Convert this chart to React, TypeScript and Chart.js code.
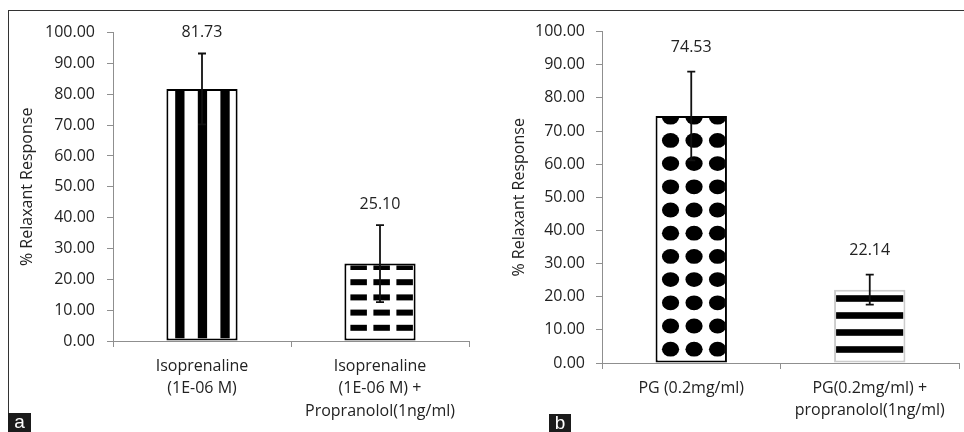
import React, { useEffect, useRef } from "react";
import { Chart, registerables } from "chart.js";

Chart.register(...registerables);

// ---------- data ----------
const leftCategories = [
  ["Isoprenaline", "(1E-06 M)"],
  ["Isoprenaline", "(1E-06 M) +", "Propranolol(1ng/ml)"],
];
const leftValues = [81.73, 25.1];
const leftErrors = [11.5, 12.5];

const rightCategories = [
  ["PG (0.2mg/ml)"],
  ["PG(0.2mg/ml) +", "propranolol(1ng/ml)"],
];
const rightValues = [74.53, 22.14];
const rightErrors = [13.4, 4.5];

const yTickValues = [0, 10, 20, 30, 40, 50, 60, 70, 80, 90, 100];
const yAxisTitle = "% Relaxant Response";
const panelLetters = ["a", "b"];

const FONT = "'Open Sans', 'Liberation Sans', sans-serif";
const TEXT = "#222222";
const AXIS = "#8f8f8f";

type PatternKind = "vstripes" | "dashes" | "dots" | "hstripes";

function drawPattern(
  ctx: CanvasRenderingContext2D,
  kind: PatternKind,
  left: number,
  right: number,
  top: number,
  base: number
) {
  ctx.fillStyle = "#000";
  if (kind === "vstripes") {
    for (let sx = left + 6.8; sx < right; sx += 22.6) {
      ctx.fillRect(sx, top, 9.3, base - top);
    }
  } else if (kind === "dashes") {
    for (let k = 0; ; k++) {
      const b = base - 7.7 - k * 15.2;
      if (b < top) break;
      for (let cx = left + 4; cx < right; cx += 23) {
        ctx.fillRect(cx, b - 6, 16.5, 6);
      }
    }
  } else if (kind === "dots") {
    for (let k = 0; ; k++) {
      const cy = base - 11.3 - k * 23.2;
      if (cy + 8 < top) break;
      for (let cx = left + 13; cx - 9 < right; cx += 23.5) {
        ctx.beginPath();
        ctx.ellipse(cx, cy, 8.6, 7.4, 0, 0, Math.PI * 2);
        ctx.fill();
      }
    }
  } else if (kind === "hstripes") {
    for (let k = 0; ; k++) {
      const cy = base - 11 - k * 17;
      if (cy + 3.3 < top) break;
      ctx.fillRect(left, cy - 3.3, right - left, 6.6);
    }
  }
}

const decorPlugin = {
  id: "decor",
  afterDatasetsDraw(chart: any, _args: any, opts: any) {
    const ctx: CanvasRenderingContext2D = chart.ctx;
    const meta = chart.getDatasetMeta(0);
    const yScale = chart.scales.y;
    const values: number[] = chart.data.datasets[0].data;
    meta.data.forEach((bar: any, i: number) => {
      const { x, y, base, width } = bar.getProps(["x", "y", "base", "width"], true);
      const left = x - width / 2;
      const right = x + width / 2;
      const bw = opts.borderWidth;
      // pattern inside bar
      ctx.save();
      ctx.beginPath();
      ctx.rect(left + bw, y + bw, width - 2 * bw, base - y - 2 * bw);
      ctx.clip();
      drawPattern(ctx, opts.patterns[i], left + bw, right - bw, y + bw, base - bw);
      ctx.restore();

      // error bar
      const v = values[i];
      const e = opts.errors[i];
      const yTop = yScale.getPixelForValue(v + e);
      const yBot = yScale.getPixelForValue(v - e);
      ctx.save();
      ctx.strokeStyle = "#111";
      ctx.lineWidth = 1.8;
      ctx.beginPath();
      ctx.moveTo(x, yTop);
      ctx.lineTo(x, yBot);
      ctx.moveTo(x - 4, yTop);
      ctx.lineTo(x + 4, yTop);
      ctx.moveTo(x - 4, yBot);
      ctx.lineTo(x + 4, yBot);
      ctx.stroke();
      ctx.restore();

      // value label
      ctx.save();
      ctx.fillStyle = TEXT;
      ctx.font = `16px ${FONT}`;
      ctx.textAlign = "center";
      ctx.textBaseline = "middle";
      ctx.fillText(v.toFixed(2), x, yTop - opts.labelOffset);
      ctx.restore();
    });
  },
};

interface PanelProps {
  categories: string[][];
  values: number[];
  errors: number[];
  patterns: PatternKind[];
  borderColors: string[];
  width: number;
  height: number;
  padTop: number;
  padRight: number;
  yWidth: number;
  xHeight: number;
  titlePad: number;
  tickPad: number;
  labelOffset: number;
}

function Panel(p: PanelProps) {
  const ref = useRef<HTMLCanvasElement | null>(null);
  useEffect(() => {
    if (!ref.current) return;
    const chart = new Chart(ref.current, {
      type: "bar",
      data: {
        labels: p.categories as any,
        datasets: [
          {
            data: p.values,
            backgroundColor: "#ffffff",
            borderColor: p.borderColors,
            borderWidth: 2,
            borderSkipped: false,
            categoryPercentage: 1,
            barPercentage: 0.4,
          },
        ],
      },
      options: {
        responsive: false,
        animation: false,
        devicePixelRatio: 1,
        layout: { padding: { top: p.padTop, right: p.padRight, left: 0, bottom: 0 } },
        plugins: {
          legend: { display: false },
          tooltip: { enabled: false },
          decor: {
            errors: p.errors,
            patterns: p.patterns,
            borderWidth: 2,
            labelOffset: p.labelOffset,
          },
        } as any,
        scales: {
          x: {
            type: "category",
            grid: {
              display: true,
              drawOnChartArea: false,
              drawTicks: true,
              tickLength: 6,
              offset: true,
              color: AXIS,
            },
            border: { display: true, color: AXIS, width: 1 },
            ticks: {
              color: TEXT,
              font: { family: FONT, size: 16, lineHeight: 1.4 },
              padding: 8,
              maxRotation: 0,
              minRotation: 0,
              autoSkip: false,
            },
            afterFit(scale: any) {
              scale.height = p.xHeight;
            },
          },
          y: {
            type: "linear",
            min: 0,
            max: 100,
            grid: {
              display: true,
              drawOnChartArea: false,
              drawTicks: true,
              tickLength: 6,
              color: AXIS,
            },
            border: { display: true, color: AXIS, width: 1 },
            afterBuildTicks(scale: any) {
              scale.ticks = yTickValues.map((v) => ({ value: v }));
            },
            ticks: {
              color: TEXT,
              font: { family: FONT, size: 16 },
              padding: p.tickPad,
              callback: (v: any) => Number(v).toFixed(2),
            },
            title: {
              display: true,
              text: yAxisTitle,
              color: TEXT,
              font: { family: FONT, size: 16, lineHeight: 1.2 },
              padding: { top: p.titlePad, bottom: 0 },
            },
            afterFit(scale: any) {
              scale.width = p.yWidth;
            },
          },
        },
      },
      plugins: [decorPlugin as any],
    });
    return () => chart.destroy();
  }, []);
  return (
    <canvas
      ref={ref}
      width={p.width}
      height={p.height}
      style={{ width: p.width, height: p.height, display: "block" }}
    />
  );
}

const letterStyle: React.CSSProperties = {
  position: "absolute",
  background: "#1b1b1b",
  color: "#ffffff",
  fontFamily: "'Liberation Sans', Arial, sans-serif",
  fontSize: 19,
  textAlign: "center",
};

export default function App() {
  return (
    <div
      style={{
        position: "fixed",
        left: 0,
        top: 0,
        width: 964,
        height: 432,
        overflow: "hidden",
        background: "#ffffff",
      }}
    >
      <div style={{ position: "absolute", left: 8, top: 10, width: 956, height: 1, background: "#333" }} />
      <div style={{ position: "absolute", left: 8, top: 10, width: 1, height: 403, background: "#333" }} />
      <div style={{ position: "absolute", left: 9, top: 11 }}>
        <Panel
          categories={leftCategories}
          values={leftValues}
          errors={leftErrors}
          patterns={["vstripes", "dashes"]}
          borderColors={["#000000", "#000000"]}
          width={471}
          height={421}
          padTop={17}
          padRight={11}
          yWidth={104}
          xHeight={91}
          titlePad={8.4}
          tickPad={12}
          labelOffset={21}
        />
      </div>
      <div style={{ position: "absolute", left: 484, top: 11 }}>
        <Panel
          categories={rightCategories}
          values={rightValues}
          errors={rightErrors}
          patterns={["dots", "hstripes"]}
          borderColors={["#000000", "#cccccc"]}
          width={480}
          height={421}
          padTop={18}
          padRight={5}
          yWidth={118}
          xHeight={69}
          titlePad={25.4}
          tickPad={11}
          labelOffset={24.5}
        />
      </div>
      <div style={{ ...letterStyle, left: 8, top: 413, width: 23, height: 19, lineHeight: "17px" }}>
        {panelLetters[0]}
      </div>
      <div style={{ ...letterStyle, left: 549, top: 414, width: 22, height: 18, lineHeight: "17px" }}>
        {panelLetters[1]}
      </div>
    </div>
  );
}
